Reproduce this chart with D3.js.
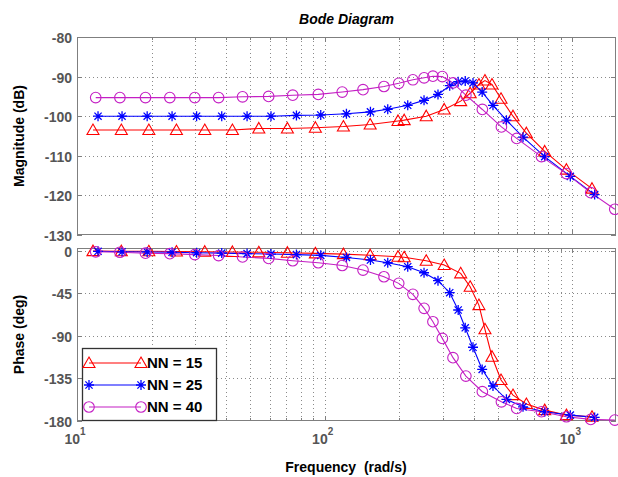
<!DOCTYPE html>
<html><head><meta charset="utf-8">
<script src="https://cdn.jsdelivr.net/npm/d3@7"></script>
<style>
html,body{margin:0;padding:0;background:#fff;}
svg{display:block;font-family:"Liberation Sans",Arial,Helvetica,sans-serif;}
</style></head>
<body>
<svg id="chart" width="618" height="477"></svg>
<script>
// ---- data ----
const seriesNames = ["NN = 15", "NN = 25", "NN = 40"];
const freq15 = [11.6,15.1,19.5,25.2,32.8,42.4,54.2,70.7,91.7,119,152.6,197.7,209.4,257,303.7,354,386.6,419.4,443.6,473.6,515,575.8,652,773,946,1200];
const mag15 = [-103.5,-103.5,-103.5,-103.5,-103.5,-103.5,-103.1,-103.1,-102.9,-102.6,-102.1,-101.2,-101.0,-100,-98.3,-96.2,-94.2,-92,-91,-92,-95.6,-100,-104.3,-108.9,-113.5,-118.3];
const phase15 = [-0.3,-0.4,-0.5,-0.7,-0.9,-1.2,-1.5,-2,-2.7,-3.5,-4.6,-6.2,-6.8,-10.5,-15,-23.8,-38,-57.4,-83,-112,-136.7,-152.6,-162,-168.5,-173.8,-175.5];
const freq25 = [12.16,15.2,19.2,24.2,30.4,38.4,48.6,60.7,76.9,96.4,122.4,153,179.7,216.4,251.8,286.7,319.7,345.9,369.3,397,432.3,478,541.6,631.9,773,981,1230];
const mag25 = [-100,-100,-100,-100,-100,-100,-100,-100,-99.8,-99.7,-99.4,-98.9,-98.25,-97.25,-96,-94.5,-92.3,-91.3,-91.1,-91.6,-93.9,-97.25,-101,-105.3,-110.2,-115.2,-119.8];
const phase25 = [-0.5,-1,-1.2,-1.5,-2,-2.4,-2.9,-3.4,-4,-4.8,-7,-9.7,-12.6,-16.8,-23.2,-31.6,-44.3,-62.6,-81.4,-102,-125.4,-143,-157.1,-165,-170.2,-173.8,-176.2];
const freq40 = [11.9,14.9,18.9,23.7,29.9,37.3,46.6,59.4,74.3,94.2,117.7,142.8,173.5,199,227,252,273.5,298.5,329.6,371.5,433,517,596,750,946,1186,1483];
const mag40 = [-95.3,-95.3,-95.3,-95.3,-95.3,-95.3,-95.1,-95.0,-94.7,-94.5,-93.9,-93.3,-92.5,-91.7,-90.8,-90.3,-89.9,-90.0,-91.6,-94.7,-98.3,-102.7,-105.6,-110.2,-114.5,-119.3,-123.5];
const phase40 = [-1,-1.5,-2.5,-3,-4,-5,-6.5,-8,-10.5,-12.6,-15.5,-20.3,-27.4,-34.4,-46,-60.8,-75,-92.6,-113,-132.5,-149,-159.7,-166.7,-170.2,-175.5,-178.3,-179];
const magTicks = [-80,-90,-100,-110,-120,-130];
const phaseTicks = [0,-45,-90,-135,-180];
const freqTicks = [10,100,1000];
const freqTickExp = ["1","2","3"];

// ---- layout ----
const svg = d3.select("#chart");
const L = 77, R = 616;
const magTop = 37, magBot = 235, phTop = 248, phBot = 421;
const colors = ["#ff0000", "#0000ff", "#c41fc4"];
const markers = ["tri", "star", "circ"];

const x = d3.scaleLog().domain([10, 1500]).range([L, R]);
const yMag = d3.scaleLinear().domain([-130, -80]).range([magBot, magTop]);
const yPh = d3.scaleLinear().domain([-180, 3]).range([phBot, phTop]);

const series = [
  {name: seriesNames[0], f: freq15, m: mag15, p: phase15},
  {name: seriesNames[1], f: freq25, m: mag25, p: phase25},
  {name: seriesNames[2], f: freq40, m: mag40, p: phase40}
];

const gridColor = "#8a8a8a", frameColor = "#7f7f7f", tickText = "#555";

function minorFreqs() {
  const out = [];
  for (let d = 10; d <= 1000; d *= 10)
    for (let k = 1; k <= 9; k++) { const v = d * k; if (v >= 10 && v <= 1500) out.push(v); }
  return out;
}

function drawMarker(g, type, cx, cy, color) {
  if (type === "tri") {
    g.append("path").attr("d", `M${cx},${cy-6}L${cx+6},${cy+4.5}L${cx-6},${cy+4.5}Z`)
      .attr("fill", "none").attr("stroke", color).attr("stroke-width", 1.1);
  } else if (type === "star") {
    const s = 5, t = 3.6;
    g.append("path").attr("d", `M${cx-s},${cy}H${cx+s}M${cx},${cy-s}V${cy+s}M${cx-t},${cy-t}L${cx+t},${cy+t}M${cx-t},${cy+t}L${cx+t},${cy-t}`)
      .attr("fill", "none").attr("stroke", color).attr("stroke-width", 1.3);
  } else {
    g.append("circle").attr("cx", cx).attr("cy", cy).attr("r", 5.3)
      .attr("fill", "none").attr("stroke", color).attr("stroke-width", 1.1);
  }
}

function panel(y, top, bot, yTicks, valueKey) {
  const g = svg.append("g");
  g.append("rect").attr("x", L).attr("y", top).attr("width", R - L).attr("height", bot - top).attr("fill", "#fff");
  minorFreqs().forEach(v => {
    const xx = Math.round(x(v)) + 0.5;
    if (xx <= L + 1 || xx >= R - 1) return;
    g.append("line").attr("x1", xx).attr("x2", xx).attr("y1", top).attr("y2", bot)
      .attr("stroke", gridColor).attr("stroke-width", 1).attr("stroke-dasharray", "1,3");
  });
  yTicks.forEach(v => {
    const yy = Math.round(y(v)) + 0.5;
    if (yy <= top + 1 || yy >= bot - 1) return;
    g.append("line").attr("x1", L).attr("x2", R).attr("y1", yy).attr("y2", yy)
      .attr("stroke", gridColor).attr("stroke-width", 1).attr("stroke-dasharray", "1,3");
  });
  g.append("rect").attr("x", L + 0.5).attr("y", top + 0.5).attr("width", R - L - 1).attr("height", bot - top - 1)
    .attr("fill", "none").attr("stroke", frameColor).attr("stroke-width", 1);
  minorFreqs().forEach(v => {
    const xx = Math.round(x(v)) + 0.5;
    const major = freqTicks.includes(v);
    const len = major ? 5 : 3;
    g.append("line").attr("x1", xx).attr("x2", xx).attr("y1", bot).attr("y2", bot - len).attr("stroke", frameColor);
    g.append("line").attr("x1", xx).attr("x2", xx).attr("y1", top).attr("y2", top + len).attr("stroke", frameColor);
  });
  yTicks.forEach(v => {
    const yy = Math.round(y(v)) + 0.5;
    g.append("line").attr("x1", L).attr("x2", L + 5).attr("y1", yy).attr("y2", yy).attr("stroke", frameColor);
    g.append("line").attr("x1", R - 5).attr("x2", R).attr("y1", yy).attr("y2", yy).attr("stroke", frameColor);
    g.append("text").attr("x", L - 5).attr("y", yy).attr("dy", "0.36em")
      .attr("text-anchor", "end").attr("font-size", 14).attr("font-weight", "bold")
      .attr("fill", tickText).text(v);
  });
  series.forEach((s, i) => {
    const pts = s.f.map((f, j) => [x(f), y(s[valueKey][j])]);
    g.append("path").attr("d", d3.line()(pts)).attr("fill", "none")
      .attr("stroke", colors[i]).attr("stroke-width", 1.1);
  });
  series.forEach((s, i) => {
    s.f.forEach((f, j) => drawMarker(g, markers[i], x(f), y(s[valueKey][j]), colors[i]));
  });
  return g;
}

panel(yMag, magTop, magBot, magTicks, "m");
panel(yPh, phTop, phBot, phaseTicks, "p");

freqTicks.forEach((v, i) => {
  const t = svg.append("text").attr("x", x(v) - 2).attr("y", 444)
    .attr("text-anchor", "middle").attr("font-size", 14).attr("font-weight", "bold").attr("fill", tickText);
  t.append("tspan").text("10");
  t.append("tspan").attr("dy", -9).attr("font-size", 10).text(freqTickExp[i]);
});

svg.append("text").attr("x", 346).attr("y", 472).attr("text-anchor", "middle")
  .attr("font-size", 14).attr("font-weight", "bold").attr("fill", "#000")
  .attr("xml:space", "preserve").text("Frequency  (rad/s)");
svg.append("text").attr("transform", `translate(24,${(magTop + magBot) / 2}) rotate(-90)`)
  .attr("text-anchor", "middle").attr("font-size", 14).attr("font-weight", "bold").attr("fill", "#000")
  .text("Magnitude (dB)");
svg.append("text").attr("transform", `translate(24,${(phTop + phBot) / 2}) rotate(-90)`)
  .attr("text-anchor", "middle").attr("font-size", 14).attr("font-weight", "bold").attr("fill", "#000")
  .text("Phase (deg)");
svg.append("text").attr("x", (L + R) / 2).attr("y", 24).attr("text-anchor", "middle")
  .attr("font-size", 14).attr("font-weight", "bold").attr("font-style", "italic").attr("fill", "#000")
  .text("Bode Diagram");

const lg = svg.append("g");
lg.append("rect").attr("x", 82.5).attr("y", 348.5).attr("width", 134).attr("height", 72)
  .attr("fill", "#fff").attr("stroke", "#333").attr("stroke-width", 1.3);
const rowY = [363, 385, 407];
series.forEach((s, i) => {
  lg.append("line").attr("x1", 89).attr("x2", 141).attr("y1", rowY[i]).attr("y2", rowY[i])
    .attr("stroke", colors[i]).attr("stroke-width", 1.1);
  drawMarker(lg, markers[i], 89, rowY[i], colors[i]);
  drawMarker(lg, markers[i], 141, rowY[i], colors[i]);
  lg.append("text").attr("x", 147).attr("y", rowY[i]).attr("dy", "0.36em")
    .attr("font-size", 15).attr("font-weight", "bold").attr("fill", "#000").text(s.name);
});
</script>
</body></html>
